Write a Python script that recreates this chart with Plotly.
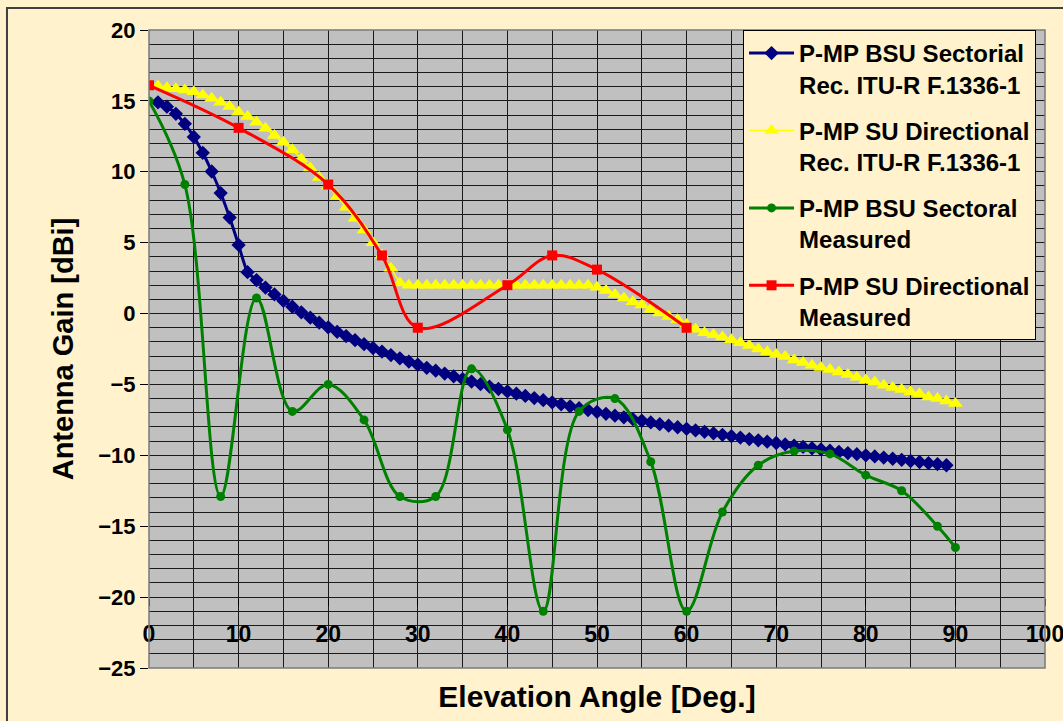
import plotly.graph_objects as go

# ---------------- data ----------------
bsu_rec_x = list(range(1, 90))
bsu_rec_y = [14.90, 14.59, 14.09, 13.38, 12.46, 11.34, 10.02, 8.50, 6.77, 4.84,
             2.92, 2.36, 1.83, 1.35, 0.90, 0.48, 0.09, -0.29, -0.64, -0.97,
             -1.29, -1.59, -1.88, -2.16, -2.43, -2.68, -2.93, -3.16, -3.39, -3.61,
             -3.83, -4.03, -4.23, -4.43, -4.62, -4.80, -4.98, -5.15, -5.32, -5.49,
             -5.65, -5.81, -5.96, -6.11, -6.26, -6.40, -6.54, -6.68, -6.81, -6.94,
             -7.07, -7.20, -7.32, -7.44, -7.56, -7.68, -7.80, -7.91, -8.02, -8.13,
             -8.24, -8.34, -8.45, -8.55, -8.65, -8.75, -8.85, -8.94, -9.04, -9.13,
             -9.23, -9.32, -9.41, -9.50, -9.58, -9.67, -9.75, -9.84, -9.92, -10.00,
             -10.08, -10.16, -10.24, -10.32, -10.40, -10.47, -10.55, -10.62, -10.70]

su_rec_x = list(range(0, 91))
su_rec_y = [16.10, 16.05, 15.92, 15.85, 15.77, 15.65, 15.42, 15.18, 14.90, 14.60,
            14.20, 13.90, 13.50, 13.07, 12.55, 12.08, 11.55, 10.90, 10.27, 9.60,
            9.00, 8.25, 7.50, 6.72, 5.90, 5.00, 4.13, 3.20, 2.15, 2.00,
            2.00, 2.00, 2.00, 2.00, 2.00, 2.00, 2.00, 2.00, 2.00, 2.00,
            2.00, 2.00, 2.00, 2.00, 2.00, 2.00, 2.00, 2.00, 2.00, 2.00,
            1.85, 1.62, 1.34, 1.10, 0.84, 0.60, 0.28, 0.04, -0.20, -0.43,
            -0.78, -1.10, -1.35, -1.50, -1.65, -1.85, -2.06, -2.25, -2.50, -2.70,
            -2.88, -3.03, -3.27, -3.45, -3.65, -3.80, -3.95, -4.13, -4.30, -4.50,
            -4.68, -4.83, -5.05, -5.22, -5.35, -5.53, -5.65, -5.88, -6.00, -6.17,
            -6.35]

bsu_meas_x = [0, 4, 8, 12, 16, 20, 24, 28, 32, 36, 40, 44, 48, 52, 56, 60, 64,
              68, 72, 76, 80, 84, 88, 90]
bsu_meas_y = [15.0, 9.1, -12.9, 1.1, -6.9, -5.0, -7.5, -12.9, -12.9, -3.9, -8.2,
              -21.0, -6.9, -6.0, -10.45, -21.0, -14.0, -10.7, -9.7, -9.9, -11.4,
              -12.5, -15.0, -16.5]

su_meas_x = [0, 10, 20, 26, 30, 40, 45, 50, 60]
su_meas_y = [16.1, 13.1, 9.1, 4.1, -1.0, 2.0, 4.1, 3.1, -1.0]

names = ["P-MP BSU Sectorial<br>Rec. ITU-R F.1336-1",
         "P-MP SU Directional<br>Rec. ITU-R F.1336-1",
         "P-MP BSU Sectoral<br>Measured",
         "P-MP SU Directional<br>Measured"]

x_ticks = [0, 10, 20, 30, 40, 50, 60, 70, 80, 90, 100]
y_ticks = [20, 15, 10, 5, 0, -5, -10, -15, -20, -25]

FONT = "Liberation Sans, Arial, sans-serif"
PAPER = "#FFF2CC"

fig = go.Figure()
fig.add_trace(go.Scatter(x=bsu_rec_x, y=bsu_rec_y, name=names[0], legendgroup="a",
                         mode="lines+markers",
                         line=dict(color="#000080", width=3, shape="spline", smoothing=0.6),
                         marker=dict(symbol="diamond", size=11, color="#000080")))
fig.add_trace(go.Scatter(x=su_rec_x, y=su_rec_y, name=names[1], legendgroup="b",
                         mode="lines+markers",
                         line=dict(color="#FFFF00", width=1.5),
                         marker=dict(symbol="triangle-up", size=13, color="#FFFF00")))
fig.add_trace(go.Scatter(x=bsu_meas_x, y=bsu_meas_y, name=names[2], legendgroup="c",
                         mode="lines+markers",
                         line=dict(color="#008000", width=3, shape="spline", smoothing=1.0),
                         marker=dict(symbol="circle", size=9, color="#008000")))
fig.add_trace(go.Scatter(x=su_meas_x, y=su_meas_y, name=names[3], legendgroup="d",
                         mode="lines+markers",
                         line=dict(color="#FF0000", width=3, shape="spline", smoothing=1.0),
                         marker=dict(symbol="square", size=10, color="#FF0000")))

grid = "#1a1a1a"
fig.update_layout(
    width=1063, height=721,
    margin=dict(l=149, r=18, t=30, b=53, autoexpand=False),
    paper_bgcolor=PAPER, plot_bgcolor="#C0C0C0",
    font=dict(family=FONT, color="black", size=22, weight="bold"),
    showlegend=True,
    legend=dict(x=0.663, y=1.0, xanchor="left", yanchor="top",
                bgcolor=PAPER, bordercolor="black", borderwidth=1,
                font=dict(family=FONT, size=24, color="black", weight="bold"),
                traceorder="grouped", tracegroupgap=12, valign="top",
                itemwidth=45),
    xaxis=dict(range=[0, 100], tickvals=x_ticks, ticks="outside", ticklen=7,
               tickcolor="black", anchor="free", position=0.1098,
               ticklabelstandoff=8, ticklabeloverflow="allow", automargin=False,
               showgrid=True, gridcolor=grid, gridwidth=1,
               minor=dict(dtick=5, showgrid=True, gridcolor=grid, gridwidth=1),
               zeroline=False, showline=False,
               tickfont=dict(family=FONT, size=23, weight="bold"),
               title=dict(text="Elevation Angle [Deg.]", standoff=40,
                          font=dict(family=FONT, size=30, weight="bold"))),
    yaxis=dict(range=[-25, 20], tickvals=y_ticks, ticks="outside", ticklen=8,
               tickcolor="black", automargin=False,
               showgrid=True, gridcolor=grid, gridwidth=1,
               minor=dict(dtick=1, showgrid=True, gridcolor=grid, gridwidth=1),
               zeroline=False, showline=False,
               tickfont=dict(family=FONT, size=22, weight="bold"),
               title=dict(text="Antenna Gain [dBi]", standoff=16,
                          font=dict(family=FONT, size=29, weight="bold"))),
)

# plot-area frame and outer chart border
fig.add_shape(type="rect", xref="paper", yref="paper", x0=0, x1=1, y0=0, y1=1,
              line=dict(color="#7a7a7a", width=1.5), layer="above")
fig.add_shape(type="rect", xref="paper", yref="paper", x0=-0.1585, x1=1.03,
              y0=-0.1, y1=1.0345, line=dict(color="#404040", width=2), layer="above")

fig.write_html("out.html")
